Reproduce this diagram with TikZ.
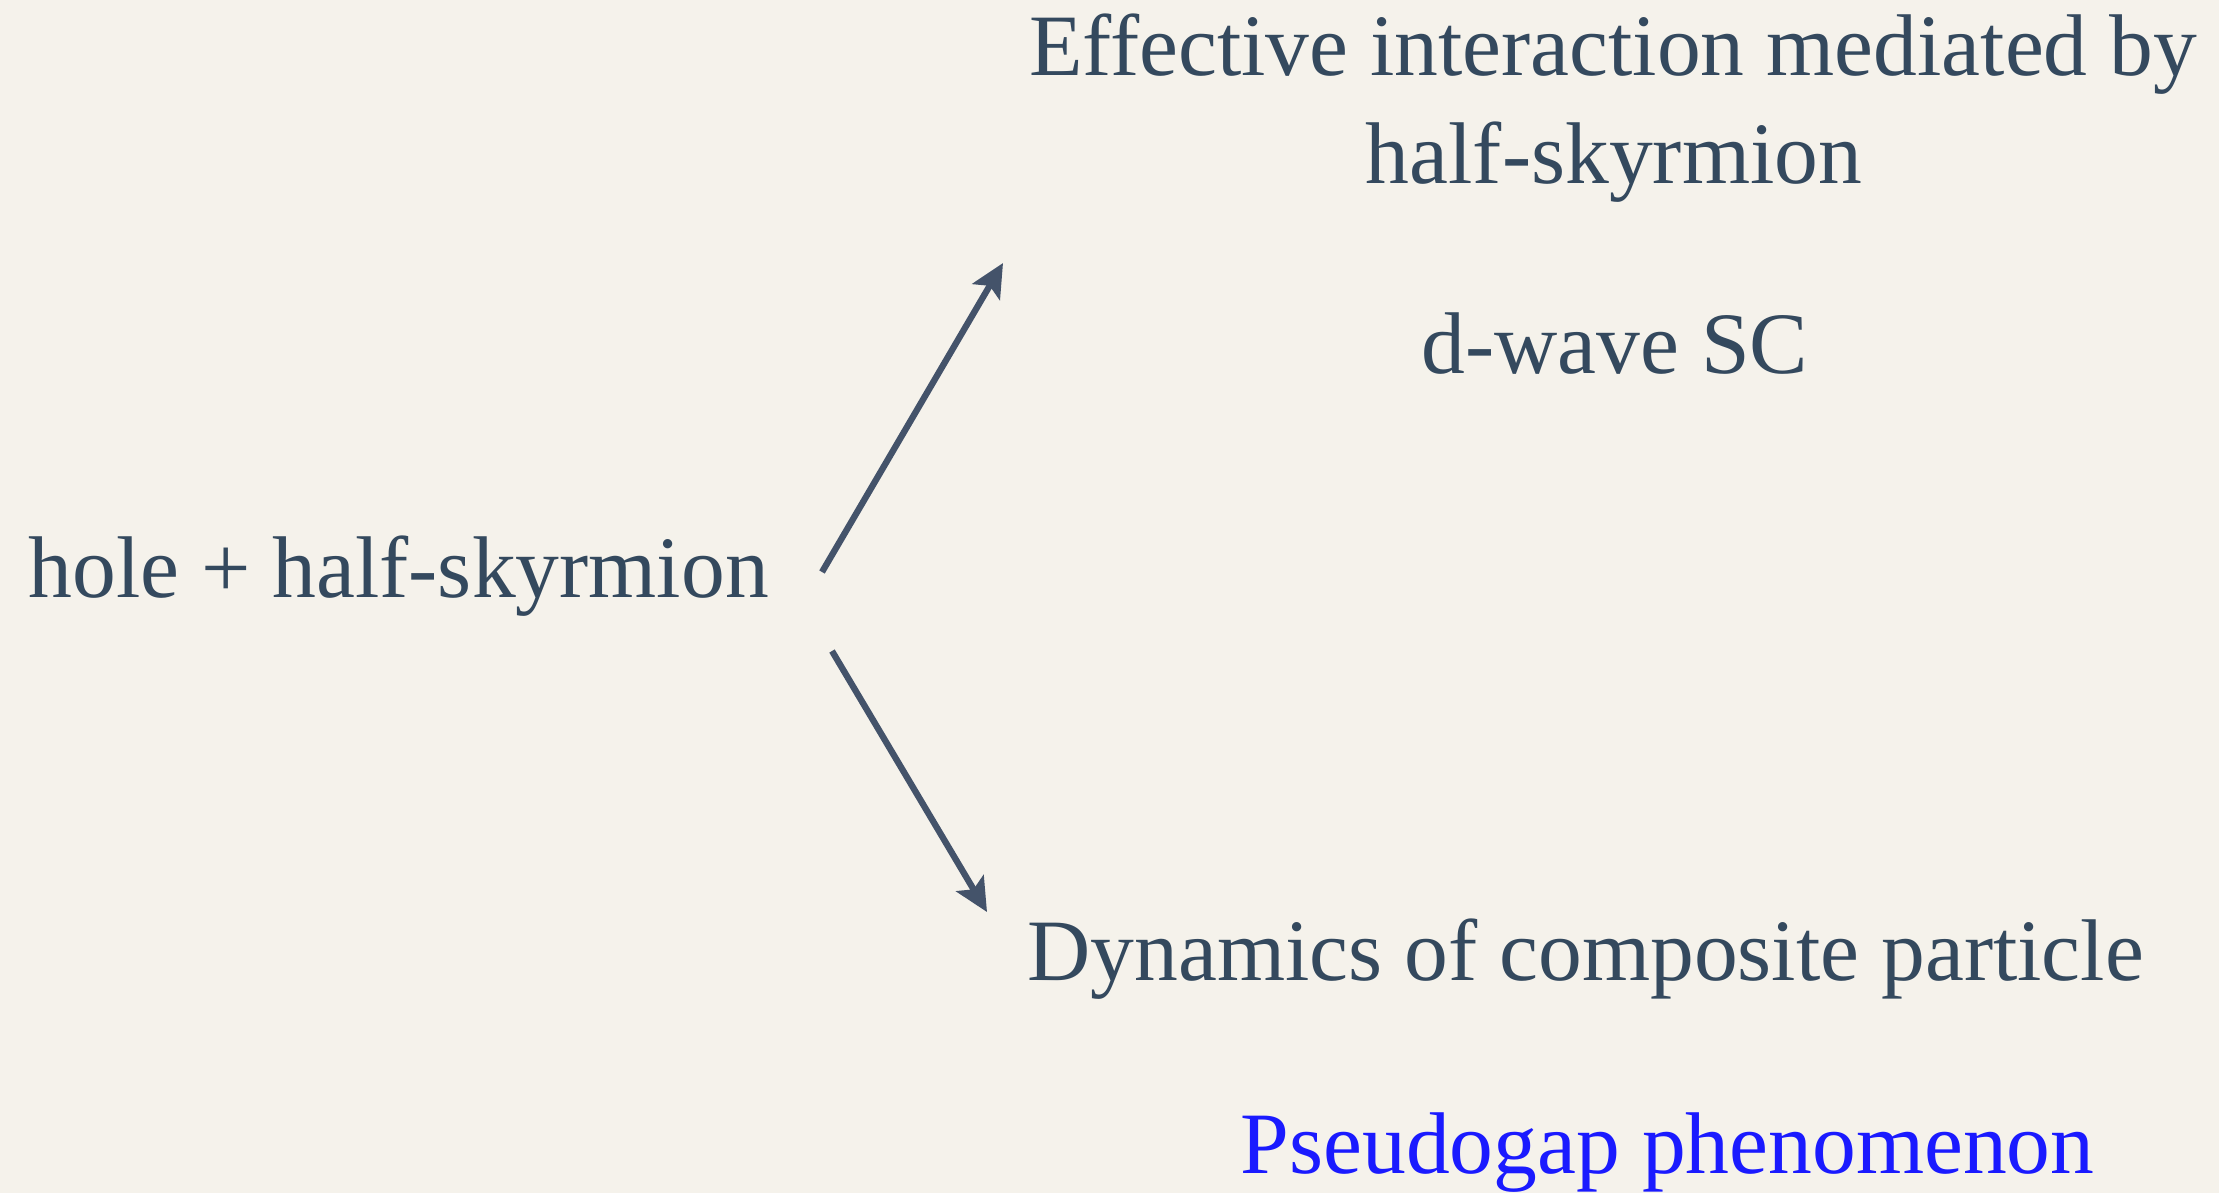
\documentclass[tikz,border=0pt]{standalone}
\usepackage{fontspec}
\setmainfont{Liberation Serif}
\usetikzlibrary{arrows.meta}
\definecolor{slidebg}{HTML}{F5F2EB}
\definecolor{slidetext}{HTML}{34495E}
\definecolor{slideline}{HTML}{44536A}
\definecolor{slideblue}{HTML}{1A1AFF}

\begin{document}
\begin{tikzpicture}[x=0.01cm, y=-0.01cm,
    txt/.style={text=slidetext, font=\fontsize{24.9}{30}\selectfont, inner sep=0pt},
    arr/.style={draw=slideline, line width=1.8pt, -{Stealth[length=9.5pt,width=9pt,inset=2pt]}}]
    % Background
    \fill[slidebg] (0,0) rectangle (2219,1193);
    \useasboundingbox (0,0) rectangle (2219,1193);

    % Source
    \node[txt, anchor=base west] (src) at (28,597) {hole + half-skyrmion};

    % Upper branch
    \node[txt, anchor=base] (eff) at (1613,75) {Effective interaction mediated by};
    \node[txt, anchor=base] (med) at (1614,183) {half-skyrmion};
    \node[txt, anchor=base] (dsc) at (1615,373) {d-wave SC};

    % Lower branch
    \node[txt, anchor=base west] (dyn) at (1027,980) {Dynamics of composite particle};
    \node[txt, anchor=base west, text=slideblue] (pg) at (1240,1173) {Pseudogap phenomenon};

    % Arrows
    \coordinate (upfrom) at (822,572);
    \coordinate (upto) at (1003,263);
    \coordinate (downfrom) at (832,651);
    \coordinate (downto) at (987,912);
    \draw[arr] (upfrom) -- (upto);
    \draw[arr] (downfrom) -- (downto);
\end{tikzpicture}
\end{document}
